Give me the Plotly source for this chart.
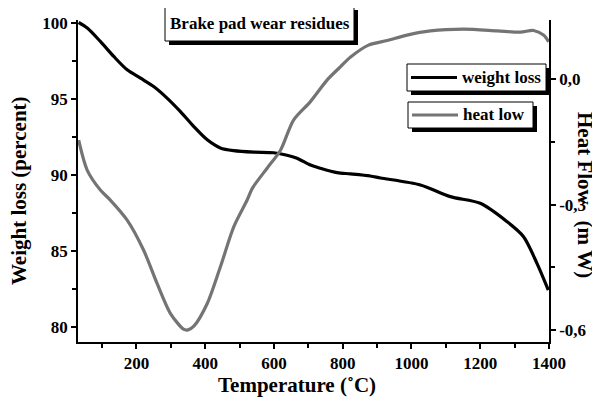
import plotly.graph_objects as go

# ---- data ----
temp_weight = [32, 57, 95, 134, 173, 212, 250, 289, 328, 367, 406, 444, 483, 541, 599, 638,
               667, 706, 735, 784, 822, 880, 910, 1026, 1113, 1200, 1278, 1326, 1365, 1398]
weight_loss = [100.04, 99.67, 98.79, 97.8, 96.92, 96.37, 95.82, 95.06, 94.17, 93.18, 92.31,
               91.78, 91.6, 91.5, 91.46, 91.3, 91.1, 90.65, 90.44, 90.15, 90.07, 89.93, 89.8,
               89.34, 88.57, 88.13, 86.92, 85.93, 84.18, 82.42]

temp_heat = [32, 57, 95, 124, 173, 221, 260, 299, 338, 350, 367, 406, 444, 483, 522, 537,
             580, 619, 657, 706, 755, 793, 822, 875, 929, 987, 1055, 1152, 1249, 1317, 1355,
             1384, 1399]
heat_flow = [-0.146, -0.218, -0.265, -0.289, -0.337, -0.409, -0.488, -0.56, -0.598, -0.599,
             -0.59, -0.536, -0.449, -0.353, -0.289, -0.261, -0.213, -0.17, -0.098, -0.054,
             -0.002, 0.029, 0.052, 0.081, 0.092, 0.105, 0.115, 0.119, 0.115, 0.112, 0.116,
             0.105, 0.089]

x_ticks = [200, 400, 600, 800, 1000, 1200, 1400]
x_minor = [100, 300, 500, 700, 900, 1100, 1300]
y_ticks = [80, 85, 90, 95, 100]
y_minor = [82.5, 87.5, 92.5, 97.5]
y2_ticks = [0.0, -0.3, -0.6]
y2_labels = ["0,0", "-0,3", "-0,6"]
y2_minor = [-0.15, -0.45]

title_text = "Brake pad wear residues"
legend_names = ["weight loss", "heat low"]
BLACK = "#000000"
GRAY = "#747474"
FONT = "Liberation Serif"

# ---- layout geometry (screen pixels; page body has an 8px margin) ----
OX, OY = 8, 8
W, H = 600 - OX, 401 - OY
L, R, T, B = 78 - OX, 51, 20 - OY, 59
PW, PH = W - L - R, H - T - B


def px(x):
    return (x - OX - L) / PW


def py(y):
    return (H - B - (y - OY)) / PH


fig = go.Figure()
fig.add_trace(go.Scatter(x=temp_weight, y=weight_loss, mode="lines", name=legend_names[0],
                         line=dict(color=BLACK, width=3.2, shape="spline", smoothing=0.8),
                         yaxis="y"))
fig.add_trace(go.Scatter(x=temp_heat, y=heat_flow, mode="lines", name=legend_names[1],
                         line=dict(color=GRAY, width=3.2, shape="spline", smoothing=0.8),
                         yaxis="y2"))

tickfont = dict(family=FONT, size=17, color="black", weight="bold")

fig.update_layout(
    width=W, height=H,
    margin=dict(l=L, r=R, t=T, b=B, autoexpand=False),
    paper_bgcolor="white", plot_bgcolor="white",
    showlegend=False,
    font=dict(family=FONT, color="black"),
    xaxis=dict(range=[30, 1400], tickmode="array", tickvals=x_ticks,
               ticks="outside", ticklen=5, tickwidth=1.5, tickcolor="black",
               minor=dict(tickvals=x_minor, ticks="outside", ticklen=4, tickwidth=1.5,
                          tickcolor="black"),
               showline=True, linecolor="black", linewidth=1.5, mirror=False,
               showgrid=False, zeroline=False, tickfont=tickfont),
    yaxis=dict(range=[79.0, 100.2], tickmode="array", tickvals=y_ticks,
               ticks="outside", ticklen=5, tickwidth=1.5, tickcolor="black",
               minor=dict(tickvals=y_minor, ticks="outside", ticklen=4, tickwidth=1.5,
                          tickcolor="black"),
               showline=True, linecolor="black", linewidth=1.5,
               showgrid=False, zeroline=False, tickfont=tickfont),
    yaxis2=dict(range=[-0.628, 0.141], overlaying="y", side="right", tickmode="array",
                tickvals=y2_ticks, ticktext=y2_labels,
                ticks="outside", ticklen=5, tickwidth=1.5, tickcolor="black",
                minor=dict(tickvals=y2_minor, ticks="outside", ticklen=4, tickwidth=1.5,
                           tickcolor="black"),
                showline=True, linecolor="black", linewidth=1.5,
                showgrid=False, zeroline=False, tickfont=tickfont),
)

shapes = []
annotations = []


def box(x0, y0, x1, y1, off=4):
    shapes.append(dict(type="rect", xref="paper", yref="paper",
                       x0=px(x0 + off), x1=px(x1 + off), y0=py(y1 + off), y1=py(y0 + off),
                       fillcolor="black", line=dict(width=0), layer="above"))
    shapes.append(dict(type="rect", xref="paper", yref="paper",
                       x0=px(x0), x1=px(x1), y0=py(y1), y1=py(y0),
                       fillcolor="white", line=dict(color="black", width=1), layer="above"))


# title box
box(165, 6, 354, 41)
annotations.append(dict(xref="paper", yref="paper", x=px(259.5), y=py(23.5),
                        text=title_text, showarrow=False, xanchor="center", yanchor="middle",
                        font=dict(family=FONT, size=17, color="black", weight="bold")))

# legend boxes
legend_boxes = [(407, 64, 546, 91), (408, 102, 533, 128)]
colors = [BLACK, GRAY]
for (x0, y0, x1, y1), name, c in zip(legend_boxes, legend_names, colors):
    box(x0, y0, x1, y1)
    ym = (y0 + y1) / 2
    shapes.append(dict(type="line", xref="paper", yref="paper",
                       x0=px(x0 + 4), x1=px(x0 + 50), y0=py(ym), y1=py(ym),
                       line=dict(color=c, width=3.2), layer="above"))
    annotations.append(dict(xref="paper", yref="paper", x=px(x0 + 53), y=py(ym),
                            text=name, showarrow=False, xanchor="left", yanchor="middle",
                            font=dict(family=FONT, size=17, color="black", weight="bold")))

# axis titles
annotations.append(dict(xref="paper", yref="paper", x=px(297), y=py(385),
                        text="Temperature (˚C)", showarrow=False,
                        xanchor="center", yanchor="middle",
                        font=dict(family=FONT, size=21, color="black", weight="bold")))
annotations.append(dict(xref="paper", yref="paper", x=px(19), y=py(191),
                        text="Weight loss (percent)", showarrow=False, textangle=-90,
                        xanchor="center", yanchor="middle",
                        font=dict(family=FONT, size=21, color="black", weight="bold")))
annotations.append(dict(xref="paper", yref="paper", x=px(585), y=py(195),
                        text="Heat Flow\u00a0\u00a0\u00a0(m\u00a0W)", showarrow=False,
                        textangle=90, xanchor="center", yanchor="middle",
                        font=dict(family=FONT, size=21, color="black", weight="bold")))

fig.update_layout(shapes=shapes, annotations=annotations)
fig.write_html("out.html")
